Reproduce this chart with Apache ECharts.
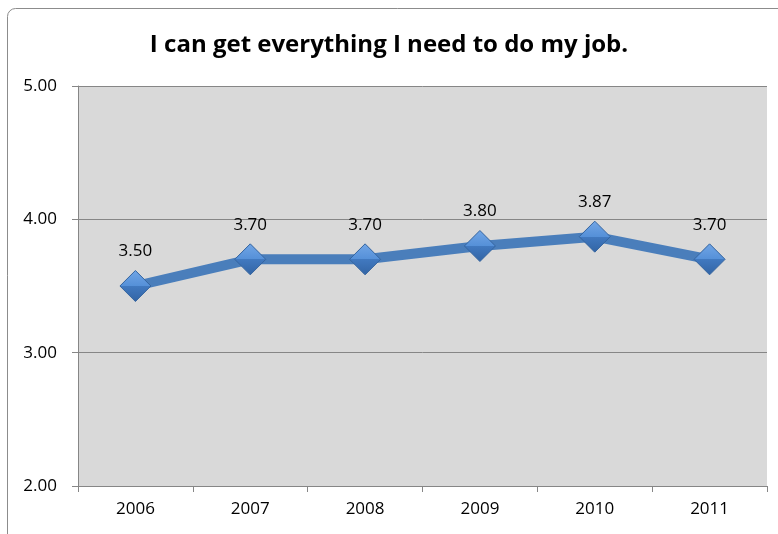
<!DOCTYPE html>
<html><head><meta charset="utf-8">
<script src="https://cdn.jsdelivr.net/npm/echarts@6/dist/echarts.min.js"></script>
<style>html,body{margin:0;padding:0;background:#fff}#c{width:778px;height:534px}</style>
</head><body><div id="c"></div>
<script>
const categories = ['2006','2007','2008','2009','2010','2011'];
const values = [3.50, 3.70, 3.70, 3.80, 3.87, 3.70];
const yTicks = [2, 3, 4, 5];
const titleText = 'I can get everything I need to do my job.';

const chart = echarts.init(document.getElementById('c'));
const font = '"Open Sans", "Noto Sans", sans-serif';
chart.setOption({
  animation: false,
  backgroundColor: '#fff',
  title: { text: titleText, left: 'center', top: 28,
    textStyle: { fontFamily: font, fontWeight: 'bold', fontSize: 24, color: '#000' } },
  graphic: [{ type: 'rect', shape: { x: 7.5, y: 8.5, width: 820, height: 600, r: 8 },
    style: { fill: 'none', stroke: '#8c8c8c', lineWidth: 1 }, z: 100 }],
  grid: { left: 78, top: 86, right: 11, bottom: 48, backgroundColor: '#d9d9d9', show: true, borderWidth: 0 },
  xAxis: { type: 'category', data: categories, boundaryGap: true,
    axisLine: { lineStyle: { color: '#868686' } },
    axisTick: { show: true, inside: false, length: 6, lineStyle: { color: '#868686' } },
    axisLabel: { fontFamily: font, fontSize: 17, color: '#000', margin: 15 } },
  yAxis: { type: 'value', min: yTicks[0], max: yTicks[yTicks.length-1], interval: 1,
    axisLine: { show: true, lineStyle: { color: '#868686' } },
    axisTick: { show: true, length: 6, lineStyle: { color: '#868686' } },
    splitLine: { lineStyle: { color: '#868686' } },
    axisLabel: { fontFamily: font, fontSize: 17, color: '#000', margin: 21,
      formatter: v => v.toFixed(2) } },
  series: [{ type: 'line', data: values, symbol: 'diamond', symbolSize: [31, 31],
    lineStyle: { width: 10, color: '#4a7ebb' },
    itemStyle: { color: new echarts.graphic.LinearGradient(0, 0, 0, 1, [
      { offset: 0, color: '#72a6e6' }, { offset: 0.5, color: '#5590d8' },
      { offset: 0.5, color: '#4179c0' }, { offset: 1, color: '#3264a4' }]),
      borderColor: '#34649f', borderWidth: 1 },
    label: { show: true, position: 'top', distance: 10, fontFamily: font, fontSize: 17, color: '#000',
      formatter: p => p.value.toFixed(2) } }]
});
</script></body></html>
